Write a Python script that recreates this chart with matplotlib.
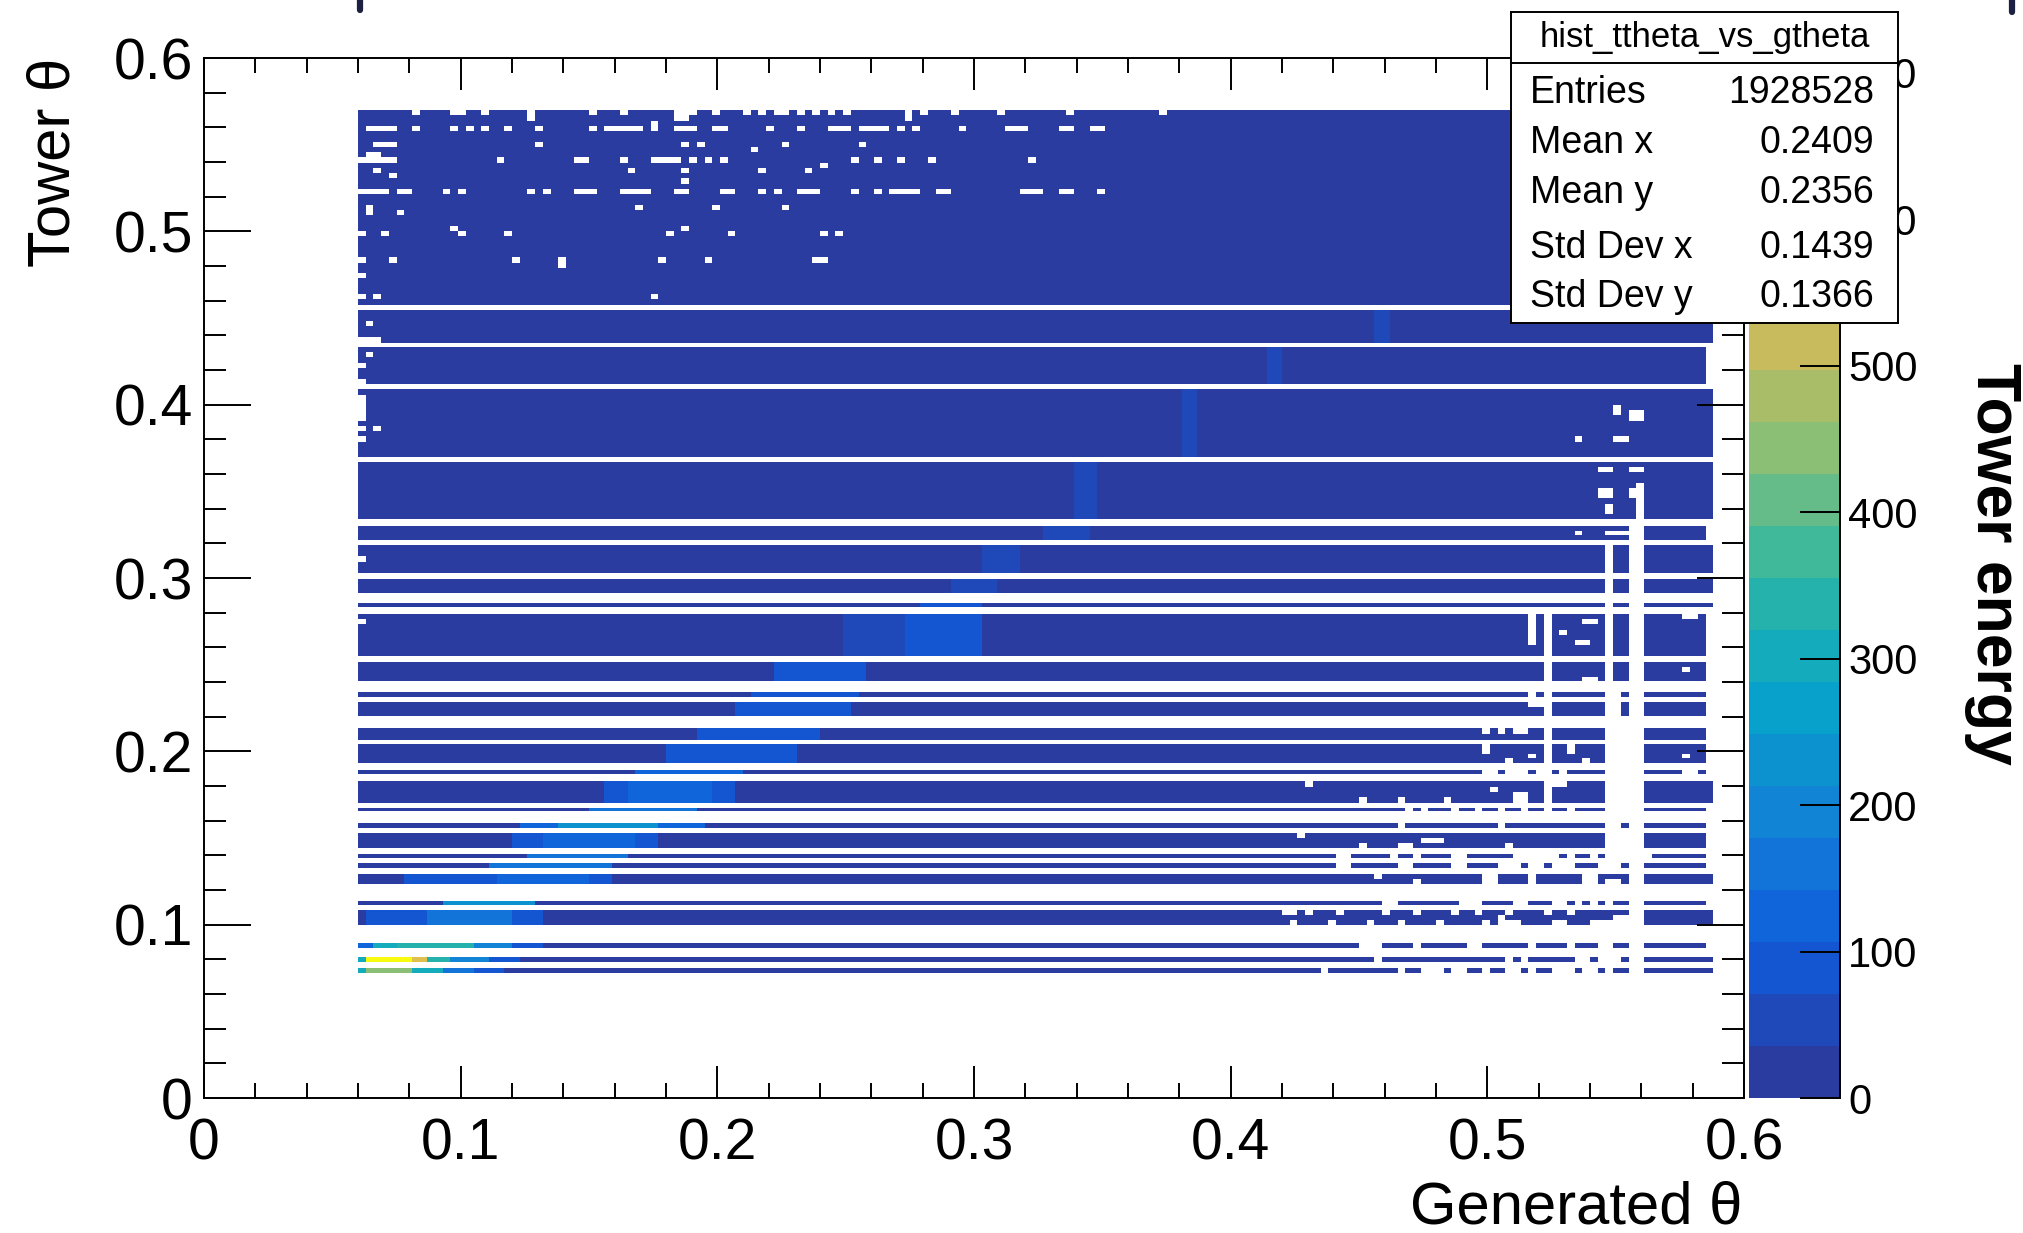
import numpy as np
import matplotlib
matplotlib.use("Agg")
import matplotlib.pyplot as plt
from matplotlib.colors import LinearSegmentedColormap, BoundaryNorm
from matplotlib.ticker import MultipleLocator
from matplotlib.lines import Line2D

# ---- histogram content (theta units) ----
BIN_W = 0.003          # x and y bin width of the TH2
X_START = 0.060        # first filled x bin
BG_Z = 12              # plain (dark blue) cell content

# filled tower-theta bands, top to bottom
BAND_LO = [0.4577, 0.4358, 0.4120, 0.3697, 0.3338, 0.3222, 0.3029, 0.2913, 0.2830,
           0.2552, 0.2403, 0.2311, 0.2205, 0.2064, 0.1934, 0.1870, 0.1703, 0.1653,
           0.1558, 0.1441, 0.1385, 0.1329, 0.1235, 0.1115, 0.0998, 0.0867, 0.0786, 0.0723]
BAND_HI = [0.5700, 0.4545, 0.4335, 0.4088, 0.3672, 0.3299, 0.3189, 0.2996, 0.2855,
           0.2793, 0.2514, 0.2340, 0.2282, 0.2133, 0.2041, 0.1894, 0.1828, 0.1675,
           0.1587, 0.1529, 0.1407, 0.1354, 0.1292, 0.1137, 0.1085, 0.0892, 0.0812, 0.0748]
BAND_XEND = [0.585, 0.588, 0.585, 0.588, 0.588, 0.585, 0.588, 0.588, 0.588,
             0.585, 0.585, 0.585, 0.585, 0.585, 0.585, 0.585, 0.588, 0.585,
             0.585, 0.585, 0.585, 0.585, 0.588, 0.585, 0.588, 0.585, 0.588, 0.588]

# brighter cells along the diagonal: (band y, x from, x to, content)
RIDGE = [
    (0.0735, 0.060, 0.063, 300), (0.0735, 0.063, 0.081, 460), (0.0735, 0.081, 0.093, 300),
    (0.0735, 0.093, 0.105, 150), (0.0735, 0.105, 0.117, 80),
    (0.080, 0.060, 0.063, 300), (0.080, 0.063, 0.081, 690), (0.080, 0.081, 0.087, 560),
    (0.080, 0.087, 0.096, 320), (0.080, 0.096, 0.110, 180), (0.080, 0.110, 0.122, 80),
    (0.088, 0.060, 0.066, 110), (0.088, 0.066, 0.075, 300), (0.088, 0.075, 0.105, 340),
    (0.088, 0.105, 0.120, 210), (0.088, 0.120, 0.132, 100),
    (0.104, 0.063, 0.087, 100), (0.104, 0.087, 0.121, 150), (0.104, 0.121, 0.132, 90),
    (0.1126, 0.093, 0.129, 220),
    (0.126, 0.078, 0.113, 80), (0.126, 0.113, 0.150, 140), (0.126, 0.150, 0.158, 80),
    (0.134, 0.110, 0.160, 160),
    (0.1396, 0.127, 0.165, 150),
    (0.148, 0.120, 0.132, 80), (0.148, 0.132, 0.168, 140), (0.148, 0.168, 0.178, 80),
    (0.157, 0.124, 0.138, 110), (0.157, 0.138, 0.176, 220), (0.157, 0.176, 0.196, 110),
    (0.1664, 0.150, 0.192, 150),
    (0.176, 0.155, 0.166, 80), (0.176, 0.166, 0.198, 115), (0.176, 0.198, 0.206, 80),
    (0.188, 0.168, 0.210, 120),
    (0.199, 0.180, 0.232, 90),
    (0.210, 0.192, 0.240, 85),
    (0.224, 0.206, 0.252, 80),
    (0.2325, 0.212, 0.256, 80),
    (0.245, 0.222, 0.258, 75),
    (0.267, 0.250, 0.272, 55), (0.267, 0.272, 0.302, 75),
    (0.284, 0.278, 0.302, 75),
    (0.295, 0.290, 0.308, 65),
    (0.311, 0.302, 0.318, 50),
    (0.326, 0.326, 0.344, 50),
    (0.350, 0.340, 0.347, 45),
    (0.390, 0.382, 0.388, 45),
    (0.423, 0.414, 0.420, 45),
    (0.445, 0.455, 0.461, 45),
]

# empty cells in the upper block: (x from, x to, y)
TOP_DOTS = [
    (0.0808, 0.0834, 0.5687), (0.0956, 0.1017, 0.5687), (0.1078, 0.1104, 0.5687),
    (0.1260, 0.1287, 0.5687), (0.1260, 0.1287, 0.5655), (0.1495, 0.1513, 0.5687),
    (0.1617, 0.1643, 0.5687), (0.1843, 0.1887, 0.5687), (0.1843, 0.1887, 0.5655),
    (0.1904, 0.1930, 0.5687), (0.1982, 0.2008, 0.5687), (0.2104, 0.2121, 0.5687),
    (0.2156, 0.2182, 0.5687), (0.2209, 0.2270, 0.5687), (0.2322, 0.2348, 0.5687),
    (0.2374, 0.2400, 0.5687), (0.2435, 0.2452, 0.5687), (0.2487, 0.2513, 0.5687),
    (0.2739, 0.2765, 0.5687), (0.2739, 0.2765, 0.5655), (0.2791, 0.2817, 0.5687),
    (0.2913, 0.2948, 0.5687), (0.3087, 0.3122, 0.5687), (0.3350, 0.3380, 0.5687),
    (0.3720, 0.3750, 0.5687),
    (0.0634, 0.0756, 0.5581), (0.0808, 0.0834, 0.5581), (0.0956, 0.0982, 0.5581),
    (0.1026, 0.1052, 0.5581), (0.1078, 0.1104, 0.5581), (0.1173, 0.1190, 0.5581),
    (0.1295, 0.1321, 0.5581), (0.1495, 0.1521, 0.5581), (0.1556, 0.1704, 0.5581),
    (0.1748, 0.1782, 0.5581), (0.1748, 0.1782, 0.5620), (0.1826, 0.1913, 0.5581),
    (0.1982, 0.2026, 0.5581), (0.2182, 0.2209, 0.5581), (0.2304, 0.2330, 0.5581),
    (0.2435, 0.2513, 0.5581), (0.2556, 0.2660, 0.5581), (0.2704, 0.2721, 0.5581),
    (0.2756, 0.2782, 0.5581), (0.2939, 0.2965, 0.5581), (0.3122, 0.3200, 0.5581),
    (0.3330, 0.3380, 0.5581), (0.3450, 0.3500, 0.5581),
    (0.0650, 0.0747, 0.5513), (0.1295, 0.1321, 0.5513), (0.1860, 0.1887, 0.5513),
    (0.1913, 0.1939, 0.5513), (0.2252, 0.2278, 0.5513), (0.2548, 0.2574, 0.5513),
    (0.2130, 0.2156, 0.5480), (0.0634, 0.0687, 0.5450),
    (0.0600, 0.0747, 0.5402), (0.1139, 0.1165, 0.5402), (0.1443, 0.1495, 0.5402),
    (0.1608, 0.1634, 0.5402), (0.1748, 0.1860, 0.5402), (0.1887, 0.1913, 0.5402),
    (0.1948, 0.1974, 0.5402), (0.2008, 0.2026, 0.5402), (0.2513, 0.2548, 0.5402),
    (0.2600, 0.2626, 0.5402), (0.2695, 0.2713, 0.5402), (0.2817, 0.2852, 0.5402),
    (0.3208, 0.3243, 0.5402), (0.2400, 0.2426, 0.5373),
    (0.0660, 0.0687, 0.5344), (0.1643, 0.1678, 0.5344), (0.1860, 0.1878, 0.5344),
    (0.2156, 0.2182, 0.5344), (0.2339, 0.2365, 0.5344), (0.0721, 0.0747, 0.5306),
    (0.1860, 0.1878, 0.5277),
    (0.0600, 0.0721, 0.5215), (0.0747, 0.0799, 0.5215), (0.0921, 0.0947, 0.5215),
    (0.0982, 0.1017, 0.5215), (0.1260, 0.1287, 0.5215), (0.1321, 0.1339, 0.5215),
    (0.1434, 0.1521, 0.5215), (0.1608, 0.1730, 0.5215), (0.1826, 0.1878, 0.5215),
    (0.2008, 0.2026, 0.5215), (0.2043, 0.2069, 0.5215), (0.2156, 0.2182, 0.5215),
    (0.2209, 0.2243, 0.5215), (0.2304, 0.2400, 0.5215), (0.2513, 0.2548, 0.5215),
    (0.2626, 0.2652, 0.5215), (0.2687, 0.2713, 0.5215), (0.2739, 0.2782, 0.5215),
    (0.2852, 0.2896, 0.5215), (0.3174, 0.3257, 0.5215), (0.3340, 0.3390, 0.5215),
    (0.3470, 0.3500, 0.5215),
    (0.0634, 0.0652, 0.5148), (0.0634, 0.0652, 0.5118), (0.1678, 0.1704, 0.5148),
    (0.1982, 0.2008, 0.5148), (0.2252, 0.2278, 0.5148), (0.0747, 0.0765, 0.5100),
    (0.0600, 0.0617, 0.4989), (0.0695, 0.0713, 0.4989), (0.0956, 0.0982, 0.5016),
    (0.0991, 0.1017, 0.4989), (0.1173, 0.1190, 0.4989), (0.1800, 0.1826, 0.4989),
    (0.1860, 0.1878, 0.5016), (0.2034, 0.2060, 0.4989), (0.2400, 0.2426, 0.4989),
    (0.2452, 0.2478, 0.4989),
    (0.0600, 0.0634, 0.4831), (0.0721, 0.0747, 0.4831), (0.1199, 0.1226, 0.4831),
    (0.1382, 0.1408, 0.4831), (0.1765, 0.1791, 0.4831), (0.1956, 0.1974, 0.4831),
    (0.2365, 0.2426, 0.4831), (0.1382, 0.1408, 0.4802),
    (0.0600, 0.0634, 0.4739), (0.0600, 0.0634, 0.4613), (0.0650, 0.0687, 0.4613),
    (0.1748, 0.1765, 0.4613),
]

# empty cells along the left edge and scattered in the middle: (x0, x1, y0, y1)
EDGE_NOTCHES = [
    (0.0634, 0.0653, 0.4450, 0.4479), (0.0600, 0.0634, 0.4352, 0.4396),
    (0.0634, 0.0686, 0.4377, 0.4396), (0.0634, 0.0653, 0.4277, 0.4306),
    (0.0600, 0.0634, 0.4204, 0.4233), (0.0600, 0.0634, 0.4120, 0.4148),
    (0.0600, 0.0634, 0.3912, 0.4046), (0.0600, 0.0634, 0.3840, 0.3860),
    (0.0653, 0.0686, 0.3840, 0.3860), (0.0600, 0.0634, 0.3790, 0.3810),
    (0.0600, 0.0634, 0.3094, 0.3123), (0.0600, 0.0634, 0.2748, 0.2764),
    (0.5490, 0.5530, 0.3940, 0.4000), (0.5560, 0.5600, 0.3900, 0.3960),
    (0.5336, 0.5384, 0.3795, 0.3815), (0.5490, 0.5540, 0.3795, 0.3815),
    (0.5420, 0.5490, 0.3610, 0.3640), (0.5560, 0.5600, 0.3610, 0.3640),
    (0.5420, 0.5480, 0.3460, 0.3530), (0.5540, 0.5600, 0.3460, 0.3530),
    (0.5450, 0.5480, 0.3380, 0.3440), (0.5580, 0.5610, 0.3340, 0.3550),
    (0.5330, 0.5380, 0.3240, 0.3280), (0.5480, 0.5500, 0.3240, 0.3280),
    (0.5520, 0.5620, 0.3240, 0.3280),
]

# empty columns and fragments on the right side: (x0, x1, y0, y1)
RIGHT_HOLES = [
    (0.5555, 0.5615, 0.0720, 0.3350), (0.5460, 0.5494, 0.1400, 0.3200),
    (0.5213, 0.5235, 0.1600, 0.2800),
    (0.5150, 0.5180, 0.2620, 0.2780), (0.5270, 0.5310, 0.2660, 0.2700),
    (0.5350, 0.5400, 0.2600, 0.2630), (0.5767, 0.5808, 0.2750, 0.2780),
    (0.5380, 0.5420, 0.2720, 0.2760), (0.5767, 0.5781, 0.2460, 0.2490),
    (0.5360, 0.5420, 0.2403, 0.2440),
    (0.5152, 0.5193, 0.2311, 0.2340), (0.5453, 0.5521, 0.2311, 0.2340),
    (0.5152, 0.5248, 0.2255, 0.2282), (0.5453, 0.5521, 0.2205, 0.2282),
    (0.4974, 0.5000, 0.2100, 0.2133), (0.5030, 0.5070, 0.2100, 0.2133),
    (0.5110, 0.5150, 0.2100, 0.2133), (0.5453, 0.5603, 0.2064, 0.2133),
    (0.4980, 0.5020, 0.2000, 0.2041), (0.5080, 0.5110, 0.1934, 0.1970),
    (0.5150, 0.5200, 0.1970, 0.2000), (0.5300, 0.5330, 0.2000, 0.2041),
    (0.5380, 0.5410, 0.1934, 0.1970), (0.5453, 0.5603, 0.1934, 0.2041),
    (0.5767, 0.5781, 0.1960, 0.1990),
    (0.4974, 0.5029, 0.1870, 0.1894), (0.5084, 0.5152, 0.1870, 0.1894),
    (0.5193, 0.5220, 0.1870, 0.1894), (0.5280, 0.5310, 0.1870, 0.1894),
    (0.5453, 0.5603, 0.1870, 0.1894), (0.5767, 0.5808, 0.1870, 0.1894),
    (0.4277, 0.4318, 0.1790, 0.1828), (0.4496, 0.4537, 0.1703, 0.1740),
    (0.4646, 0.4673, 0.1703, 0.1740), (0.4837, 0.4865, 0.1703, 0.1740),
    (0.5000, 0.5030, 0.1760, 0.1800), (0.5100, 0.5150, 0.1703, 0.1760),
    (0.5250, 0.5300, 0.1790, 0.1828), (0.5453, 0.5507, 0.1703, 0.1828),
    (0.5521, 0.5548, 0.1703, 0.1828),
    (0.4673, 0.4700, 0.1653, 0.1675), (0.4755, 0.4780, 0.1653, 0.1675),
    (0.4860, 0.4890, 0.1653, 0.1675), (0.4950, 0.4974, 0.1653, 0.1675),
    (0.5030, 0.5060, 0.1653, 0.1675), (0.5120, 0.5150, 0.1653, 0.1675),
    (0.5220, 0.5248, 0.1653, 0.1675), (0.5310, 0.5350, 0.1653, 0.1675),
    (0.5453, 0.5624, 0.1653, 0.1675),
    (0.4646, 0.4670, 0.1558, 0.1587), (0.5050, 0.5080, 0.1558, 0.1587),
    (0.5460, 0.5521, 0.1558, 0.1587),
    (0.4250, 0.4291, 0.1500, 0.1529), (0.4496, 0.4523, 0.1441, 0.1470),
    (0.4646, 0.4700, 0.1441, 0.1470), (0.4755, 0.4824, 0.1470, 0.1500),
    (0.5084, 0.5111, 0.1441, 0.1470), (0.5494, 0.5603, 0.1441, 0.1529),
    # band at 0.139
    (0.4397, 0.4460, 0.1385, 0.1407), (0.4613, 0.4651, 0.1385, 0.1407),
    (0.4727, 0.4753, 0.1385, 0.1407), (0.4854, 0.4918, 0.1385, 0.1407),
    (0.5109, 0.5274, 0.1385, 0.1407), (0.5312, 0.5350, 0.1385, 0.1407),
    (0.5388, 0.5426, 0.1385, 0.1407), (0.5452, 0.5630, 0.1385, 0.1407),
    # band at 0.134
    (0.4422, 0.4460, 0.1329, 0.1354), (0.4638, 0.4702, 0.1329, 0.1354),
    (0.4854, 0.4918, 0.1329, 0.1354), (0.5032, 0.5121, 0.1329, 0.1354),
    (0.5172, 0.5223, 0.1329, 0.1354), (0.5248, 0.5337, 0.1329, 0.1354),
    (0.5426, 0.5515, 0.1329, 0.1354),
    # band at 0.126
    (0.4564, 0.4591, 0.1265, 0.1292), (0.4700, 0.4728, 0.1235, 0.1265),
    (0.4974, 0.5032, 0.1235, 0.1292), (0.5160, 0.5185, 0.1235, 0.1292),
    (0.5375, 0.5430, 0.1235, 0.1292), (0.5450, 0.5535, 0.1235, 0.1265),
    # band at 0.1125
    (0.4600, 0.4651, 0.1115, 0.1137), (0.4880, 0.4969, 0.1115, 0.1137),
    (0.5109, 0.5147, 0.1115, 0.1137), (0.5261, 0.5312, 0.1115, 0.1137),
    (0.5350, 0.5363, 0.1115, 0.1137), (0.5401, 0.5426, 0.1115, 0.1137),
    (0.5464, 0.5490, 0.1115, 0.1137),
    # band at 0.104 (ragged top and bottom rows)
    (0.4194, 0.4245, 0.1060, 0.1085), (0.4295, 0.4321, 0.1060, 0.1085),
    (0.4422, 0.4448, 0.1060, 0.1085), (0.4600, 0.4626, 0.1060, 0.1085),
    (0.4727, 0.4753, 0.1060, 0.1085), (0.4854, 0.4880, 0.1060, 0.1085),
    (0.4956, 0.4982, 0.1060, 0.1085), (0.5058, 0.5109, 0.1060, 0.1085),
    (0.5210, 0.5236, 0.1060, 0.1085), (0.5325, 0.5350, 0.1060, 0.1085),
    (0.4219, 0.4270, 0.0998, 0.1025), (0.4372, 0.4397, 0.0998, 0.1025),
    (0.4524, 0.4549, 0.0998, 0.1025), (0.4651, 0.4677, 0.0998, 0.1025),
    (0.4804, 0.4829, 0.0998, 0.1025), (0.4969, 0.4994, 0.0998, 0.1025),
    (0.5032, 0.5134, 0.0998, 0.1025), (0.5261, 0.5312, 0.0998, 0.1025),
    (0.5388, 0.5540, 0.0998, 0.1025), (0.5032, 0.5058, 0.1030, 0.1055),
    (0.5477, 0.5540, 0.1030, 0.1055),
    # band at 0.088
    (0.4511, 0.4588, 0.0867, 0.0892), (0.4715, 0.4740, 0.0867, 0.0892),
    (0.4931, 0.4969, 0.0867, 0.0892), (0.5147, 0.5185, 0.0867, 0.0892),
    (0.5312, 0.5337, 0.0867, 0.0892), (0.5426, 0.5477, 0.0867, 0.0892),
    # band at 0.080
    (0.4549, 0.4588, 0.0786, 0.0812), (0.5058, 0.5109, 0.0786, 0.0812),
    (0.5134, 0.5160, 0.0786, 0.0812), (0.5337, 0.5388, 0.0786, 0.0812),
    (0.5426, 0.5515, 0.0786, 0.0812),
    # band at 0.0735
    (0.4346, 0.4384, 0.0723, 0.0748), (0.4638, 0.4689, 0.0723, 0.0748),
    (0.4727, 0.4816, 0.0723, 0.0748), (0.4854, 0.4918, 0.0723, 0.0748),
    (0.4982, 0.5020, 0.0723, 0.0748), (0.5058, 0.5121, 0.0723, 0.0748),
    (0.5147, 0.5185, 0.0723, 0.0748), (0.5236, 0.5337, 0.0723, 0.0748),
    (0.5363, 0.5439, 0.0723, 0.0748), (0.5477, 0.5502, 0.0723, 0.0748),
]

Z_MAX = 710
N_LEVELS = 20
CB_TICKS = [0, 100, 200, 300, 400, 500, 600, 700]
AXIS_TICKS = [0.0, 0.1, 0.2, 0.3, 0.4, 0.5, 0.6]
AXIS_LABELS = ["0", "0.1", "0.2", "0.3", "0.4", "0.5", "0.6"]

STATS_NAME = "hist_ttheta_vs_gtheta"
STATS_LABELS = ["Entries", "Mean x", "Mean y", "Std Dev x", "Std Dev y"]
STATS_VALUES = ["1928528", "0.2409", "0.2356", "0.1439", "0.1366"]

# ROOT kBird palette (bottom stop matched to the picture)
BIRD_R = [0.165, 0.0592, 0.0780, 0.0232, 0.1802, 0.5301, 0.8186, 0.9956, 0.9764]
BIRD_G = [0.235, 0.3599, 0.5041, 0.6419, 0.7178, 0.7492, 0.7328, 0.7862, 0.9832]
BIRD_B = [0.625, 0.8684, 0.8385, 0.7914, 0.6425, 0.4662, 0.3499, 0.1968, 0.0539]

W, H = 2023, 1233
plt.rcParams['font.family'] = ['Liberation Sans', 'DejaVu Sans']

# ---- build the binned grid ----
x_edges = np.linspace(0, 0.6, 201)
xc = 0.5 * (x_edges[:-1] + x_edges[1:])

y_edges = [0.0]
row_band = []
for lo, hi, xe in sorted(zip(BAND_LO, BAND_HI, BAND_XEND)):
    if lo > y_edges[-1] + 1e-9:
        y_edges.append(lo)
        row_band.append(None)
    n = max(1, int(round((hi - lo) / BIN_W)))
    for e in np.linspace(lo, hi, n + 1)[1:]:
        y_edges.append(e)
        row_band.append((lo, hi, xe))
y_edges.append(0.6)
row_band.append(None)
y_edges = np.array(y_edges)
nrows = len(row_band)

Z = np.full((nrows, len(xc)), np.nan)
for i, b in enumerate(row_band):
    if b is not None:
        Z[i, (xc > X_START) & (xc < b[2])] = BG_Z

for y, x0, x1, z in RIDGE:
    cols = (xc >= x0) & (xc <= x1)
    for i, b in enumerate(row_band):
        if b is not None and b[0] <= y <= b[1]:
            Z[i, cols & ~np.isnan(Z[i])] = z


def punch(x0, x1, y0, y1):
    if x1 - x0 < BIN_W:
        m = 0.5 * (x0 + x1)
        x0, x1 = m - BIN_W / 2, m + BIN_W / 2
    cols = (xc >= x0) & (xc <= x1)
    for i in range(nrows):
        lo_i, hi_i = y_edges[i], y_edges[i + 1]
        yc, h = 0.5 * (lo_i + hi_i), hi_i - lo_i
        a, b = y0, y1
        if b - a < h:
            m = 0.5 * (a + b)
            a, b = m - h / 2, m + h / 2
        if a <= yc <= b:
            Z[i, cols] = np.nan


for x0, x1, y in TOP_DOTS:
    punch(x0, x1, y, y)
for x0, x1, y0, y1 in EDGE_NOTCHES + RIGHT_HOLES:
    punch(x0, x1, y0, y1)

# ---- figure ----
fig = plt.figure(figsize=(W / 100, H / 100), dpi=100)
ax = fig.add_axes([204 / W, 1 - 1098 / H, 1540 / W, 1040 / H])
cax = fig.add_axes([1749 / W, 1 - 1098 / H, 91 / W, 1040 / H])

bird = LinearSegmentedColormap.from_list(
    "bird", list(zip(np.linspace(0, 1, 9), zip(BIRD_R, BIRD_G, BIRD_B))), N=256)
norm = BoundaryNorm(np.linspace(0, Z_MAX, N_LEVELS + 1), ncolors=256)

mesh = ax.pcolormesh(x_edges, y_edges, np.ma.masked_invalid(Z), cmap=bird, norm=norm,
                     shading='flat', antialiased=False, linewidth=0)

ax.set_xlim(0, 0.6)
ax.set_ylim(0, 0.6)
ax.set_xticks(AXIS_TICKS)
ax.set_xticklabels(AXIS_LABELS)
ax.set_yticks(AXIS_TICKS)
ax.set_yticklabels(AXIS_LABELS)
ax.xaxis.set_minor_locator(MultipleLocator(0.02))
ax.yaxis.set_minor_locator(MultipleLocator(0.02))
ax.tick_params(axis='x', which='major', direction='in', length=23, width=1.4,
               top=True, labelsize=41, pad=14)
ax.tick_params(axis='x', which='minor', direction='in', length=11, width=1.4, top=True)
ax.tick_params(axis='y', which='major', direction='in', length=34, width=1.4,
               right=True, labelsize=41, pad=8)
ax.tick_params(axis='y', which='minor', direction='in', length=16, width=1.4, right=True)
for s in ax.spines.values():
    s.set_linewidth(1.4)

cb = fig.colorbar(mesh, cax=cax, ticks=CB_TICKS)
cb.outline.set_visible(False)
cax.yaxis.set_ticks_position('right')
cax.tick_params(axis='y', which='major', direction='in', length=29, width=1.4,
                labelsize=30, pad=6)
cax.tick_params(axis='y', which='minor', length=0)
cax.plot([1, 1], [0, 1], transform=cax.transAxes, color='black', lw=1.4, clip_on=False)

fig.text(54 / W, 1 - 58 / H, "Tower θ", rotation=90, ha='center', va='top', fontsize=43)
fig.text(1742 / W, 1 - 1208 / H, "Generated θ", ha='right', va='center', fontsize=43)
fig.text(1993 / W, 1 - 564 / H, "Tower energy", rotation=-90, ha='center', va='center',
         fontsize=45, fontweight='bold')

# stats box
sax = fig.add_axes([1511 / W, 1 - 323 / H, 387 / W, 311 / H], zorder=10)
sax.set_xlim(0, 1)
sax.set_ylim(0, 1)
sax.set_xticks([])
sax.set_yticks([])
sax.set_facecolor('white')
for s in sax.spines.values():
    s.set_linewidth(1.4)
sax.axhline(0.836, color='black', lw=1.4)
sax.text(0.5, 0.918, STATS_NAME, ha='center', va='center', fontsize=25)
row_y = [0.741, 0.579, 0.418, 0.241, 0.084]
for ry, lab, val in zip(row_y, STATS_LABELS, STATS_VALUES):
    sax.text(0.049, ry, lab, ha='left', va='center', fontsize=27)
    sax.text(0.939, ry, val, ha='right', va='center', fontsize=27)

# bits of slide text cut off at the top edge
for px, plen in [(360, 10), (2012, 12)]:
    fig.add_artist(Line2D([px / W, px / W], [1.0, 1 - plen / H], color='#1c2141',
                          lw=4.5, solid_capstyle='round'))

fig.savefig("out.png", dpi=100)
